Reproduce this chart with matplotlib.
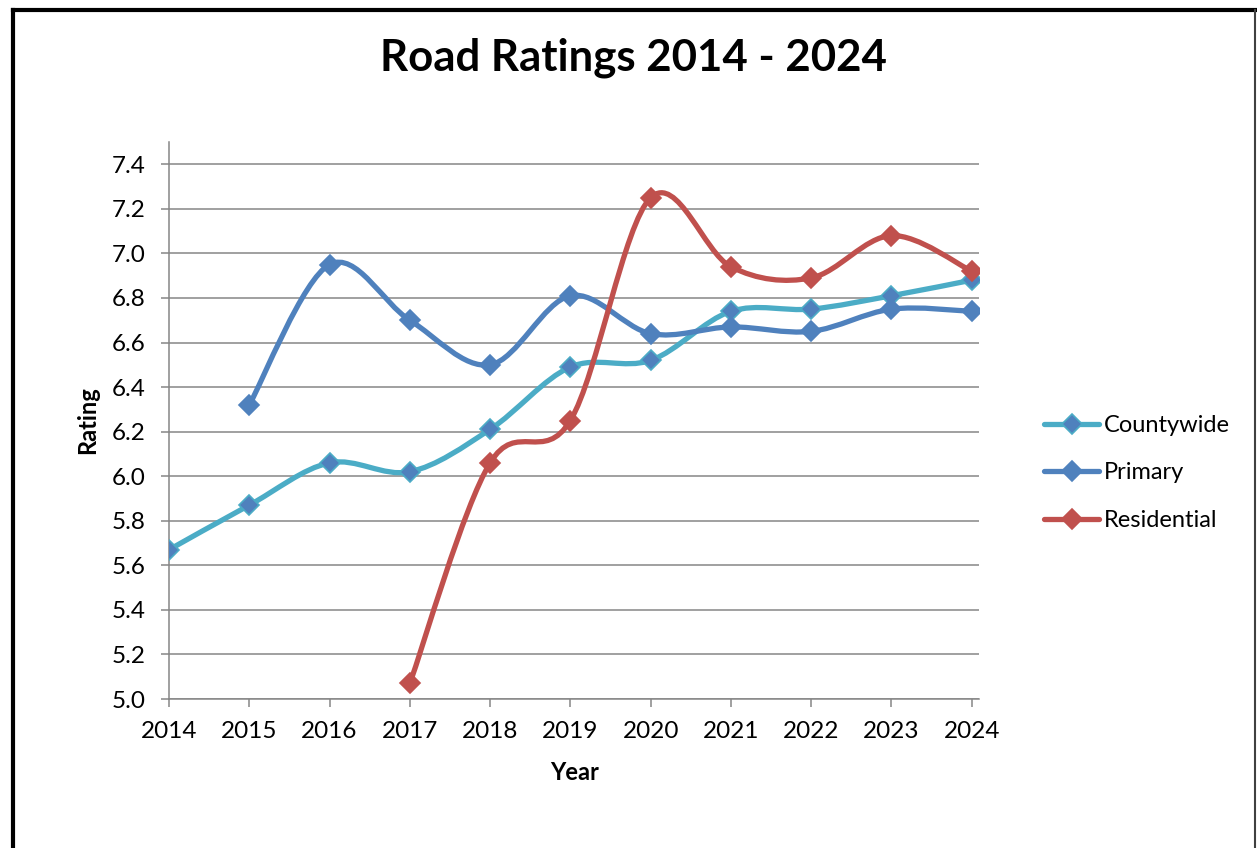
import matplotlib
matplotlib.use('Agg')
import matplotlib.pyplot as plt
from matplotlib.path import Path
from matplotlib.patches import PathPatch
from matplotlib.lines import Line2D

plt.rcParams['font.family'] = ['Lato', 'DejaVu Sans']

years = [2014, 2015, 2016, 2017, 2018, 2019, 2020, 2021, 2022, 2023, 2024]
countywide = [5.67, 5.87, 6.06, 6.02, 6.21, 6.49, 6.52, 6.74, 6.75, 6.81, 6.88]
primary_years = [2015, 2016, 2017, 2018, 2019, 2020, 2021, 2022, 2023, 2024]
primary = [6.32, 6.95, 6.70, 6.50, 6.81, 6.64, 6.67, 6.65, 6.75, 6.74]
residential_years = [2017, 2018, 2019, 2020, 2021, 2022, 2023, 2024]
residential = [5.07, 6.06, 6.25, 7.25, 6.94, 6.89, 7.08, 6.92]
y_ticks = [5.0, 5.2, 5.4, 5.6, 5.8, 6.0, 6.2, 6.4, 6.6, 6.8, 7.0, 7.2, 7.4]

W, H = 1257, 848


def smooth_path(xs, ys):
    # Excel-like smoothed line: cubic Bezier segments through the points
    pts = list(zip(xs, ys))
    n = len(pts)
    verts = [pts[0]]
    codes = [Path.MOVETO]
    for i in range(n - 1):
        p0 = pts[i - 1] if i > 0 else pts[i]
        p1 = pts[i]
        p2 = pts[i + 1]
        p3 = pts[i + 2] if i + 2 < n else pts[i + 1]
        c1 = (p1[0] + (p2[0] - p0[0]) / 6, p1[1] + (p2[1] - p0[1]) / 6)
        c2 = (p2[0] - (p3[0] - p1[0]) / 6, p2[1] - (p3[1] - p1[1]) / 6)
        verts += [c1, c2, p2]
        codes += [Path.CURVE4] * 3
    return Path(verts, codes)


fig = plt.figure(figsize=(W / 100, H / 100), dpi=100)
ax = fig.add_axes([169 / W, 1 - 699 / H, (979 - 169) / W, (699 - 142) / H])

series = [
    ('Countywide', years, countywide, '#4BACC6', '#4F81BD', '#4BACC6'),
    ('Primary', primary_years, primary, '#4F81BD', '#4F81BD', '#4F81BD'),
    ('Residential', residential_years, residential, '#C0504D', '#C0504D', '#C0504D'),
]

handles = []
z = 3
for name, xs, ys, lc, mfc, mec in series:
    patch = PathPatch(smooth_path(xs, ys), facecolor='none', edgecolor=lc,
                      lw=3.8, capstyle='round', joinstyle='round', zorder=z)
    ax.add_patch(patch)
    ax.plot(xs, ys, linestyle='none', marker='D', ms=10, mfc=mfc, mec=mec,
            mew=1.2, zorder=z + 0.5)
    handles.append(Line2D([], [], color=lc, lw=3.8, marker='D', ms=10,
                          mfc=mfc, mec=mec, mew=1.2, solid_capstyle='round'))
    z += 1

ax.set_xlim(2014, 2024.09)
ax.set_ylim(5.0, 7.5)
ax.set_xticks(years)
ax.set_yticks(y_ticks)
ax.set_yticklabels([f'{v:.1f}' for v in y_ticks])
ax.grid(axis='y', color='#868686', lw=1.1, zorder=1)
ax.set_axisbelow(True)
for s in ['top', 'right']:
    ax.spines[s].set_visible(False)
for s in ['left', 'bottom']:
    ax.spines[s].set_color('#868686')
    ax.spines[s].set_linewidth(1.1)
ax.tick_params(axis='both', direction='out', length=5.8, width=1.1,
               color='#868686', labelsize=17.5, labelcolor='black')
ax.tick_params(axis='y', pad=11)
ax.tick_params(axis='x', pad=10)

fig.text(633 / W, 1 - 58 / H, 'Road Ratings 2014 - 2024', ha='center', va='center',
         fontsize=31.5, fontweight='bold')
fig.text(575 / W, 1 - 773 / H, 'Year', ha='center', va='center',
         fontsize=17, fontweight='bold')
fig.text(88 / W, 1 - 420 / H, 'Rating', ha='center', va='center',
         fontsize=17, fontweight='bold', rotation=90)

fig.legend(handles, ['Countywide', 'Primary', 'Residential'],
           loc='center left', bbox_to_anchor=(1035 / W, 1 - 473 / H),
           frameon=False, fontsize=17, handlelength=2.3, handletextpad=0.2,
           labelspacing=1.12, borderaxespad=0)

# chart border
fig.add_artist(Line2D([13 / W, 13 / W], [0, 1 - 10 / H], transform=fig.transFigure,
                      color='black', lw=3))
fig.add_artist(Line2D([13 / W, 1255 / W], [1 - 10 / H, 1 - 10 / H],
                      transform=fig.transFigure, color='black', lw=3))
fig.add_artist(Line2D([1255 / W, 1255 / W], [0, 1 - 10 / H], transform=fig.transFigure,
                      color='#404040', lw=1.5))

fig.savefig('out.png', dpi=100)
